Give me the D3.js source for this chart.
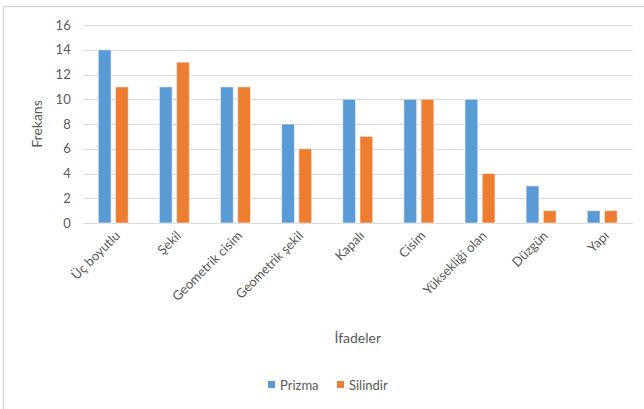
<!DOCTYPE html>
<html>
<head>
<meta charset="utf-8">
<script src="https://cdn.jsdelivr.net/npm/d3@7"></script>
<style>
  html, body { margin: 0; padding: 0; background: #fff; }
  svg { display: block; font-family: Lato, "Open Sans", sans-serif; }
</style>
</head>
<body>
<svg id="chart" width="644" height="409"></svg>
<script>
// Category labels and series values
const categories = ["Üç boyutlu", "Şekil", "Geometrik cisim", "Geometrik şekil", "Kapalı", "Cisim", "Yüksekliği olan", "Düzgün", "Yapı"];
const seriesNames = ["Prizma", "Silindir"];
const prizma = [14, 11, 11, 8, 10, 10, 10, 3, 1];
const silindir = [11, 13, 11, 6, 7, 10, 4, 1, 1];
const yTicks = [0, 2, 4, 6, 8, 10, 12, 14, 16];
const colors = ["#5B9BD5", "#ED7D31"];

const rows = categories.map((c, i) => ({ cat: c, values: [prizma[i], silindir[i]] }));

const svg = d3.select("#chart");
const W = 644, H = 409;

// Chart frame
svg.append("rect")
  .attr("x", 3.5).attr("y", 6.5)
  .attr("width", W + 10).attr("height", H + 10)
  .attr("fill", "none").attr("stroke", "#D9D9D9").attr("stroke-width", 1.5);

const plot = { left: 82.7, right: 632.8, top: 25, bottom: 223 };

const x0 = d3.scaleBand().domain(categories).range([plot.left, plot.right]).padding(0);
const x1 = d3.scaleBand().domain(seriesNames).range([0, x0.bandwidth()])
  .paddingInner(0.256).paddingOuter(0.904);
const y = d3.scaleLinear().domain([0, 16]).range([plot.bottom, plot.top]);

// Gridlines
svg.append("g").selectAll("line").data(yTicks).join("line")
  .attr("x1", plot.left).attr("x2", plot.right)
  .attr("y1", d => Math.round(y(d)) + 0.5).attr("y2", d => Math.round(y(d)) + 0.5)
  .attr("stroke", "#D9D9D9").attr("stroke-width", 1.2);

// Y axis tick labels
const yAxis = d3.axisLeft(y).tickValues(yTicks).tickSize(0).tickPadding(0);
const gy = svg.append("g").attr("transform", `translate(${plot.left - 12},0)`).call(yAxis);
gy.select(".domain").remove();
gy.selectAll("text")
  .attr("fill", "#595959").attr("font-size", 13).attr("font-family", "Lato, sans-serif");

// Bars
const groups = svg.append("g").selectAll("g").data(rows).join("g")
  .attr("transform", d => `translate(${x0(d.cat)},0)`);
groups.selectAll("rect")
  .data(d => d.values.map((v, i) => ({ key: seriesNames[i], v, i })))
  .join("rect")
  .attr("x", d => x1(d.key))
  .attr("y", d => y(d.v))
  .attr("width", x1.bandwidth())
  .attr("height", d => y(0) - y(d.v))
  .attr("fill", d => colors[d.i])
  .attr("stroke", "#ffffff").attr("stroke-opacity", 0.55).attr("stroke-width", 1);

// X axis category labels, rotated
const xAxis = d3.axisBottom(x0).tickSize(0).tickPadding(0);
const gx = svg.append("g").attr("transform", `translate(0,${plot.bottom})`).call(xAxis);
gx.select(".domain").remove();
gx.selectAll("text")
  .attr("fill", "#595959").attr("font-size", 13).attr("font-family", "Lato, sans-serif")
  .attr("text-anchor", "end")
  .attr("dy", null).attr("y", 0)
  .attr("transform", "translate(4,10) rotate(-45)")
  .attr("dominant-baseline", "central");

// Axis titles
svg.append("text")
  .attr("transform", `translate(42,${(plot.top + plot.bottom) / 2}) rotate(-90)`)
  .attr("text-anchor", "middle")
  .attr("fill", "#595959").attr("font-size", 14)
  .text("Frekans");

svg.append("text")
  .attr("x", (plot.left + plot.right) / 2).attr("y", 343)
  .attr("text-anchor", "middle")
  .attr("fill", "#595959").attr("font-size", 14)
  .text("İfadeler");

// Legend
const legendItems = [{ name: "Prizma", x: 268 }, { name: "Silindir", x: 337 }];
const lg = svg.append("g").selectAll("g").data(legendItems).join("g")
  .attr("transform", d => `translate(${d.x},381)`);
lg.append("rect").attr("width", 7).attr("height", 7)
  .attr("fill", (d, i) => colors[i]);
lg.append("text").attr("x", 12).attr("y", 4).attr("dominant-baseline", "central")
  .attr("fill", "#595959").attr("font-size", 13)
  .text(d => d.name);
</script>
</body>
</html>
